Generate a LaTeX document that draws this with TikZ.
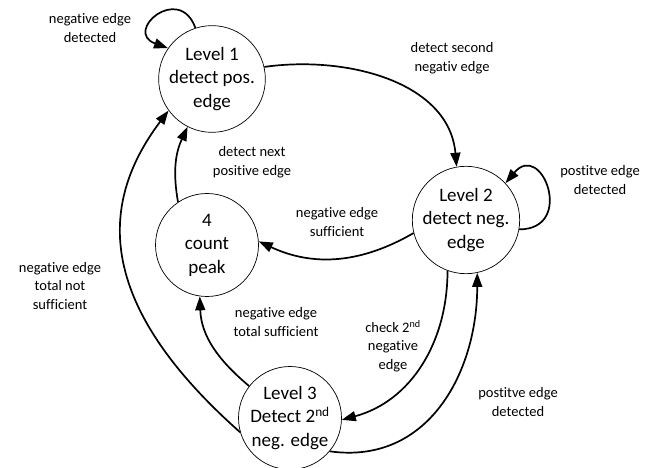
\documentclass[tikz,border=0pt]{standalone}
\usepackage{fontspec}
\setmainfont[Ligatures={NoCommon}]{Carlito}
\usetikzlibrary{arrows.meta}

\tikzset{
  state/.style={draw, circle, line width=0.7pt, minimum size=103pt, inner sep=0pt,
    align=center, font=\fontsize{19}{23.5}\selectfont},
  lbl/.style={align=center, font=\fontsize{14.5}{18.5}\selectfont},
  trans/.style={line width=1.7pt}
}

\begin{document}
\begin{tikzpicture}[x=1pt, y=1pt, >={Triangle[length=14pt,width=10pt]}]
        \useasboundingbox (0,0) rectangle (662,468);

        \node[state] (L1) at (212,389) {Level 1\\detect pos.\\edge};
        \node[state] (L2) at (466,248) {Level 2\\detect neg.\\edge};
        \node[state] (C4) at (207,223) {4\\count\\peak};
        \node[state] (L3) at (290,50) {Level 3\\Detect 2\textsuperscript{nd}\\neg. edge};

        \node[lbl] (lL1) at (90,440) {negative edge\\detected};
        \node[lbl] (lL12) at (452,410) {detect second\\negativ edge};
        \node[lbl] (lL2) at (600,288) {postitve edge\\detected};
        \node[lbl] (lC41) at (252,306) {detect next\\positive edge};
        \node[lbl] (lL2C4) at (337,246) {negative edge\\sufficient};
        \node[lbl] (lL3L1) at (60,182) {negative edge\\total not\\sufficient};
        \node[lbl] (lL3C4) at (276,146) {negative edge\\total sufficient};
        \node[lbl] (lL2L3) at (393,122) {check 2\textsuperscript{nd}\\negative\\edge};
        \node[lbl] (lL3L2) at (518,66) {postitve edge\\detected};

        \draw[trans,->] (L1.108) to[out=110,in=160,looseness=3.6] (L1.145);
        \draw[trans,->] (L1.13) to[out=8,in=95] (L2.100);
        \draw[trans,->] (L2.-10) to[out=0,in=50,looseness=3] (L2.43);
        \draw[trans,->] (L2.194) to[out=210,in=-25] (C4.4);
        \draw[trans,->] (C4.124) to[out=100,in=245] (L1.243);
        \draw[trans,->] (L3.196) .. controls (100,160) and (95,260) .. (L1.216);
        \draw[trans,->] (L3.142) to[out=140,in=272] (C4.262);
        \draw[trans,->] (L2.250) to[out=270,in=15] (L3.-2);
        \draw[trans,->] (L3.-40) to[out=-8,in=270,looseness=1.1] (L2.-78);
    \end{tikzpicture}
\end{document}
